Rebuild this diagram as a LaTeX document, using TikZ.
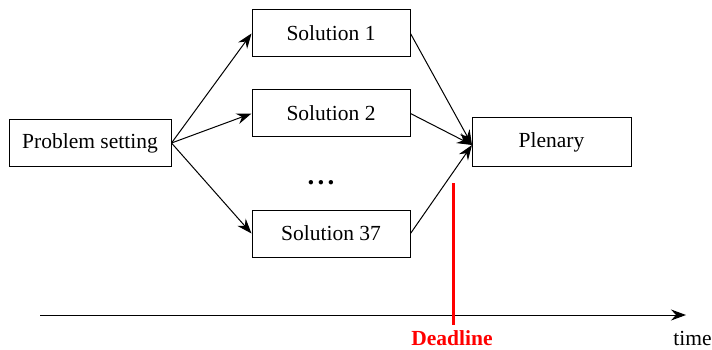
\documentclass[tikz,border=0pt]{standalone}
\usepackage{fontspec}
\setmainfont{Liberation Serif}
\usetikzlibrary{arrows.meta}
\begin{document}
\begin{tikzpicture}[x=1pt,y=-1pt,
  box/.style={draw,line width=1pt,minimum height=47pt,inner sep=0pt,font=\fontsize{21.5}{25}\selectfont},
  arr/.style={-{Stealth[length=15pt,width=11pt,inset=5pt]},line width=1pt}]
\useasboundingbox (0,0) rectangle (712,350);
\node[box,minimum width=162pt] (ps) at (90,143) {Problem setting};
\node[box,minimum width=158pt] (s1) at (331,33.5) {Solution 1};
\node[box,minimum width=158pt] (s2) at (331,113.5) {Solution 2};
\node[box,minimum width=158pt] (s37) at (331,233.5) {Solution 37};
\node[box,minimum width=159pt,minimum height=48pt] (pl) at (551.5,142) {Plenary};
\node[font=\fontsize{27}{30}\selectfont\bfseries,inner sep=0pt,anchor=base] (dots) at (321,184) {.\hspace{3.3pt}.\hspace{3.3pt}.};
\coordinate (pin) at (472,145);
\draw[arr] (ps.east) -- (s1.west);
\draw[arr] (ps.east) -- (s2.west);
\draw[arr] (ps.east) -- (s37.west);
\draw[arr] (s1.east) -- (pin);
\draw[arr] (s2.east) -- (pin);
\draw[arr] (s37.east) -- (pin);
\coordinate (t0) at (40,315);
\coordinate (t1) at (686,315);
\draw[arr] (t0) -- (t1);
\coordinate (d0) at (453,183);
\coordinate (d1) at (453,325);
\draw[red,line width=3pt] (d0) -- (d1);
\node[text=red,font=\fontsize{21.5}{25}\selectfont\bfseries,inner sep=0pt] (dl) at (452,338) {Deadline};
\node[font=\fontsize{21.5}{25}\selectfont,inner sep=0pt] (tm) at (692.5,338) {time};
\end{tikzpicture}
\end{document}
